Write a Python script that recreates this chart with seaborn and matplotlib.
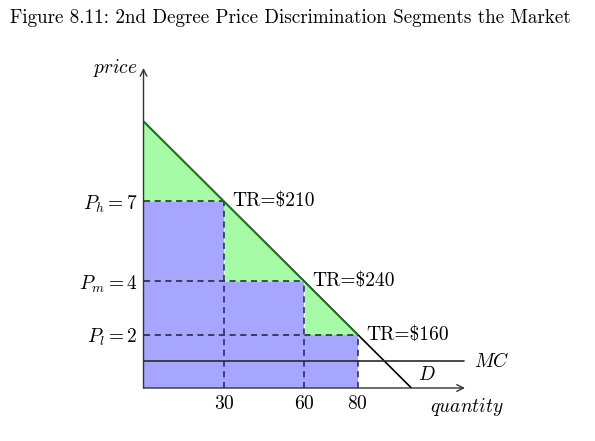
import numpy as np
import pandas as pd
import matplotlib
matplotlib.use('Agg')
import matplotlib.pyplot as plt
import seaborn as sns

# segment data
quantities = [30, 60, 80]
prices = [7, 4, 2]
price_names = ['h', 'm', 'l']
revenues = [210, 240, 160]
mc_level = 1
demand_intercept = 10
demand_max_q = 100

sns.set_theme(style='white')
plt.rcParams['mathtext.fontset'] = 'cm'
plt.rcParams['font.family'] = ['cmr10', 'DejaVu Serif']
plt.rcParams['axes.formatter.use_mathtext'] = True
plt.rcParams['text.color'] = 'black'
plt.rcParams['xtick.color'] = 'black'
plt.rcParams['ytick.color'] = 'black'

GREEN_FILL = '#a6fba6'
GREEN_EDGE = '#1d7d1d'
BLUE_FILL = '#a6a6ff'
BLUE_DASH = '#1c1c7a'
FS = 14

fig = plt.figure(figsize=(5.95, 4.41), dpi=100)
ax = fig.add_axes([0.2412, 0.1202, 0.5403, 0.7256])
ax.set_xlim(0, 120)
ax.set_ylim(0, 12)
for s in ax.spines.values():
    s.set_visible(False)


def demand(q):
    return demand_intercept - demand_intercept * np.asarray(q, dtype=float) / demand_max_q


# blue step area (revenue captured)
step_x = [0] + quantities
step_y = prices + [prices[-1]]
ax.fill_between(step_x, step_y, step='post', color=BLUE_FILL, lw=0, zorder=1)

# green area between demand and the steps
q_green = np.linspace(0, quantities[-1], 400)
step_vals = np.select([q_green < quantities[0], q_green < quantities[1]],
                      [prices[0], prices[1]], prices[2])
ax.fill_between(q_green, step_vals, demand(q_green), color=GREEN_FILL, lw=0, zorder=1)

# demand and MC lines
demand_df = pd.DataFrame({'q': [0, demand_max_q], 'p': demand([0, demand_max_q])})
sns.lineplot(data=demand_df, x='q', y='p', color='black', lw=1.2, ax=ax, zorder=3)
sns.lineplot(x=[0, quantities[-1]], y=demand([0, quantities[-1]]), color=GREEN_EDGE,
             lw=1.2, ax=ax, zorder=4)
sns.lineplot(x=[0, 119.5], y=[mc_level, mc_level], color='#2a2a2a', lw=1.2, ax=ax, zorder=3)

# dashed guides
for q, p in zip(quantities, prices):
    ax.plot([0, q], [p, p], ls=(0, (4, 3)), color='#222222', lw=1.1, zorder=2)
    ax.plot([q, q], [0, p], ls=(0, (4, 3)), color=BLUE_DASH, lw=1.1, zorder=2)

# axes with arrows
arrow = dict(arrowstyle='->', color='#333333', lw=1.0, shrinkA=0, shrinkB=0)
ax.annotate('', xy=(120, 0), xytext=(0, 0), arrowprops=arrow, annotation_clip=False)
ax.annotate('', xy=(0, 12), xytext=(0, 0), arrowprops=arrow, annotation_clip=False)

# ticks
ax.set_xticks(quantities)
ax.set_xticklabels([f'${q}$' for q in quantities], fontsize=FS)
ax.set_yticks(prices)
ax.set_yticklabels([f'$P_{n} = {p}$' for n, p in zip(price_names, prices)], fontsize=FS)
ax.tick_params(axis='x', length=0, pad=5)
ax.tick_params(axis='y', length=0, pad=4)
ax.grid(False)
ax.set_xlabel('')
ax.set_ylabel('')

# labels
for q, p, r in zip(quantities, prices, revenues):
    ax.text(q + 3, p, f'TR=\\${r}', fontsize=FS, ha='left', va='center', zorder=5)

ax.text(-2, 12, r'$price$', fontsize=FS, ha='right', va='center')
ax.text(107, -0.7, r'$quantity$', fontsize=FS, ha='left', va='center')
ax.text(123.5, mc_level, r'$MC$', fontsize=FS, ha='left', va='center')
ax.text(105.8, 0.5, r'$D$', fontsize=FS, ha='center', va='center')

fig.text(10 / 595, 1 - 18 / 441, 'Figure 8.11: 2nd Degree Price Discrimination Segments the Market',
         fontsize=13.7, ha='left', va='center')

fig.savefig('out.png', dpi=100)
